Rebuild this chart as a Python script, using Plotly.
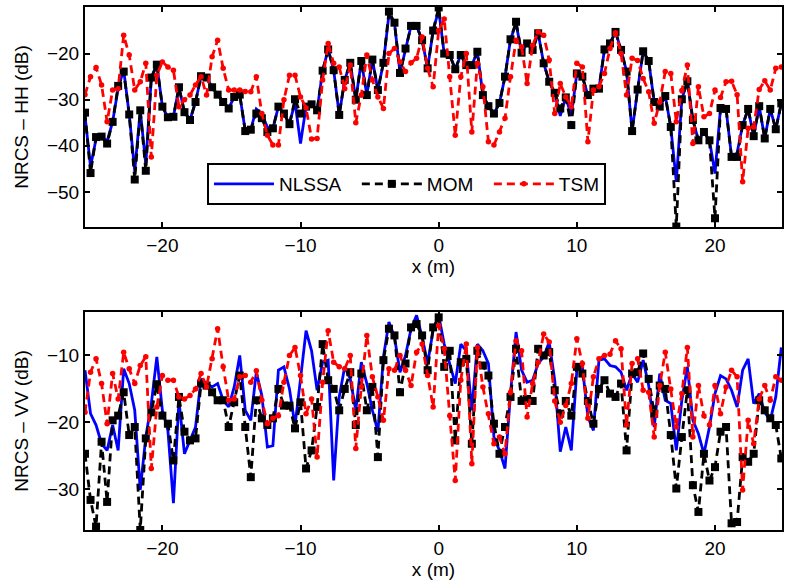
import numpy as np
import plotly.graph_objects as go
from plotly.subplots import make_subplots

# x positions (m): sampling grid
x = np.round(np.arange(-25.6, 25.01, 0.4), 1)[:127]

hh_mom = [-32.8,-45.9,-38.1,-38,-39.5,-34.8,-27,-23.9,-33.2,-47.3,-32.3,-45.4,-25.2,-22.4,-31.5,-33.8,-33.7,-27.3,-32.7,-34.4,
          -30.5,-24.9,-25.2,-27.3,-28.9,-30.5,-31.9,-29.4,-28.9,-36.8,-36.5,-33,-34,-37,-36.2,-31.5,-33,-35.3,-29.9,-33,
          -31.5,-31,-32.3,-23.7,-19.1,-23.6,-33.3,-25.7,-22,-30,-21.6,-29,-21.3,-27.9,-22,-10.9,-13.3,-24.2,-18.9,-14,
          -14,-17.1,-23.2,-15,-10,-20,-20.3,-23.4,-20.3,-22.5,-22.5,-19.6,-29,-31.4,-33,-30.7,-25,-16.9,-13.1,-19.8,
          -17.8,-19.2,-15.6,-22.1,-26.1,-28.5,-31.9,-29.5,-35.5,-24.3,-25,-29,-27.6,-27.6,-19.1,-17.8,-15.3,-19.2,-23.9,-36.8,
          -27.8,-19.5,-21.6,-30.5,-31.5,-29.2,-35.9,-57.5,-29.9,-26,-34.4,-38.8,-37,-38.8,-55.7,-31.8,-32,-42.4,-42.4,-35.5,
          -32,-37.9,-31.4,-38.4,-32,-36.4,-30.8]

hh_nlssa = [-33.5,-44.5,-38.5,-38,-39,-34.8,-27.5,-23.5,-33.2,-45.5,-32.3,-44,-25.2,-22.4,-31.5,-33.8,-33.7,-27.3,-32.7,-34.4,
            -30.5,-24.9,-25.2,-27.3,-28.9,-30.5,-31.9,-29.4,-28.9,-36.8,-36.5,-32,-33,-36,-36.2,-31.5,-33,-35.3,-30.5,-39.5,
            -31.5,-31,-32.3,-23.7,-19.1,-23.6,-33.3,-25.7,-22,-30,-21.6,-29,-21.3,-27.9,-22,-11.5,-13.3,-24.2,-18.9,-14,
            -14,-17.1,-23.2,-15,-10.5,-20,-20.3,-23.4,-20.3,-22.5,-22.5,-19.6,-29,-31.4,-33,-30.7,-25,-16.9,-13.5,-19.8,
            -17.8,-19.2,-15.6,-22.1,-26.1,-28.5,-33.5,-29.5,-33.5,-24.3,-25,-29,-27.6,-27.6,-19.1,-17.8,-15.3,-19.2,-23.9,-36.8,
            -27.8,-19.5,-21.6,-30.5,-31.5,-29.2,-35.9,-47.8,-29.9,-26,-34.4,-38.8,-37,-38.8,-46,-31.8,-32,-42.4,-41.5,-35.5,
            -32,-37.9,-31.4,-38.4,-32,-36.4,-30.8]

hh_tsm = [-28.9,-25,-23,-26.8,-34.8,-27.9,-27.6,-16,-20.3,-27.9,-26.1,-22.1,-42.4,-24.7,-21.8,-22.9,-23.6,-31.5,-30,-29,
          -26.8,-25,-29,-20.7,-17.1,-23.2,-27.9,-27.9,-27.9,-28.2,-28.3,-25,-33,-37.7,-39.8,-39.8,-30,-24.7,-24.7,-29.4,
          -31.8,-38.5,-38.4,-25.7,-17.8,-22.1,-22.9,-27.6,-22.5,-35,-29,-20.3,-25.7,-29.4,-31.9,-20,-18.9,-21.8,-23.9,-22,
          -21,-16.4,-23.2,-27.2,-15,-12.5,-25,-37.7,-25,-20,-37,-22.1,-27.2,-39.1,-39.8,-37,-34,-25,-17.1,-18.5,
          -26.5,-18.2,-15.3,-16,-21.4,-33,-26.5,-29.4,-31.5,-22.1,-22.9,-39.1,-27.9,-27.2,-24.3,-18.9,-15.5,-20,-29,-21,
          -21.5,-25.4,-28.3,-35.1,-30.5,-23.9,-24.3,-34.8,-28,-22.5,-39.5,-27.2,-33.7,-33,-27.9,-29.5,-26.1,-26,-28.9,-47.8,
          -36.2,-35.9,-27.8,-25.9,-27.9,-23.2,-22.9]

vv_mom = [-24.7,-31.6,-35.6,-22.9,-31.9,-19.7,-19,-15.5,-21.9,-20.7,-36.1,-22.4,-18.5,-14.3,-19,-20.2,-25.7,-16.2,-21.4,-22.7,
          -22.4,-14.2,-14.5,-15.5,-16.7,-16.7,-20.7,-17,-13,-20.7,-28.2,-16.7,-19.4,-20.4,-19.4,-15,-17.5,-17.5,-20.9,-17,
          -26.9,-24.2,-17.7,-8.3,-13.7,-15,-18.2,-15,-12.5,-20.4,-12.7,-18.2,-14.7,-25.2,-10.7,-6,-7,-15.5,-11.2,-5.8,
          -5.3,-7,-12.2,-5.8,-4.3,-11.7,-9.3,-22.7,-11,-10.5,-23.2,-9.3,-11.5,-13,-20.2,-24.7,-20.7,-16.2,-9,-16.8,
          -16.5,-16.8,-9,-10,-9.5,-15.2,-18.7,-16.8,-19,-11.7,-12.7,-16.8,-20.2,-15,-13.7,-15.7,-16.2,-14.2,-24.2,-12.7,
          -12.5,-9.7,-13.5,-18.7,-14.5,-15,-21.9,-29.9,-22.2,-15.2,-29.4,-33.4,-24.7,-28.7,-26.7,-21.4,-20.7,-35.1,-34.9,-25.2,
          -25.9,-24.7,-16.7,-18.2,-19.4,-20.4,-25.4]

vv_nlssa = [-12.2,-18.7,-20.4,-23.2,-24.2,-20.4,-24.2,-12,-14.2,-18.2,-30.1,-22.2,-17.2,-10.2,-18.2,-21.2,-32.1,-16.7,-24.7,-22.7,
            -20.7,-13.5,-14.2,-14.7,-14.2,-16.7,-17.7,-14.7,-10,-18.2,-19.7,-12.5,-16,-23.7,-23.5,-12.2,-11.7,-15,-20.5,-13.5,
            -6.3,-9.3,-15.2,-11,-10.7,-28.7,-16.2,-11.7,-13.5,-18.2,-11,-14.2,-18.2,-21.4,-10.2,-5,-7.2,-12.5,-10,-6,
            -4,-7.2,-11.2,-6.2,-4,-8.3,-11.2,-14.2,-8.3,-9.3,-18.2,-8.3,-9.3,-11.2,-22.2,-24.2,-26.9,-15.7,-6.5,-12.2,
            -14,-13.7,-11.2,-10.2,-8,-13.7,-24.4,-20.7,-24.2,-12.2,-11.7,-19.2,-21.2,-10.7,-10.5,-11.5,-11.7,-12.5,-15.2,-12.7,
            -14,-10.7,-14.5,-20.7,-12.7,-16.7,-17.2,-24.2,-16.7,-11.7,-19.7,-21.7,-24.7,-20.7,-15.7,-13,-13.5,-15.2,-17.7,-12.2,
            -10.5,-17.2,-15.7,-18.5,-19.7,-16.2,-8.8]

vv_tsm = [-18.5,-12.5,-10.5,-14.2,-20.2,-12.7,-16.5,-9.5,-12,-14.2,-11.5,-10.2,-26.9,-17.7,-13,-13.7,-13.7,-16.2,-16.5,-16,
          -15,-12.7,-14.7,-10.5,-6,-11.7,-16.7,-16.5,-13.2,-13,-14,-12.3,-16.7,-20.2,-19.4,-19,-14,-10,-8.8,-13,
          -18.7,-16.5,-25.2,-14,-6.3,-11,-11.7,-12,-10,-23.9,-14.7,-7,-13.2,-16.2,-19.7,-12,-12.2,-10,-12.2,-14.5,
          -9.5,-8.3,-13,-17.7,-5.5,-9,-19,-28.7,-13.7,-8.3,-26.2,-8.8,-14.7,-18.7,-23.2,-22.2,-24.7,-15.5,-7.8,-9.3,
          -19.2,-14.2,-11,-6.8,-8,-16.8,-20,-17.5,-14.2,-7.5,-11.2,-19.4,-13.2,-10.5,-10,-9.8,-7.8,-9,-20.4,-11.2,
          -10.5,-15.2,-15.5,-22.2,-14.5,-9.5,-15,-20.7,-15.7,-8.8,-22.2,-14.5,-19,-20.4,-14.5,-18.7,-14.7,-12.2,-13.2,-30.1,
          -19.7,-23.2,-16.5,-14.5,-16.7,-13.2,-13.7]

names = ["NLSSA", "MOM", "TSM"]
colors = ["#0000ff", "#000000", "#ff0000"]
PAD = "\u00a0" * 2

FONT = "Liberation Sans, Arial, Helvetica, sans-serif"
FS = 19

fig = make_subplots(rows=2, cols=1, vertical_spacing=0.0)

def add_set(row, nl, mo, ts, show):
    fig.add_trace(go.Scatter(x=x, y=nl, mode="lines", name=names[0] + PAD, showlegend=show,
                             line=dict(color=colors[0], width=2.8)), row=row, col=1)
    fig.add_trace(go.Scatter(x=x, y=mo, mode="lines+markers", name=names[1] + PAD, showlegend=show,
                             line=dict(color=colors[1], width=2.8, dash="8px,5px"),
                             marker=dict(symbol="square", size=8, color=colors[1])), row=row, col=1)
    fig.add_trace(go.Scatter(x=x, y=ts, mode="lines+markers", name=names[2], showlegend=show,
                             line=dict(color=colors[2], width=2.8, dash="8px,5px"),
                             marker=dict(symbol="circle", size=5.5, color=colors[2])), row=row, col=1)

add_set(1, hh_nlssa, hh_mom, hh_tsm, True)
add_set(2, vv_nlssa, vv_mom, vv_tsm, False)

axis_common = dict(showline=True, linecolor="black", linewidth=2, mirror="ticks",
                   ticks="inside", ticklen=5, tickwidth=1.5, tickcolor="black",
                   showgrid=False, zeroline=False,
                   tickfont=dict(family=FONT, size=FS, color="black"))

fig.update_xaxes(range=[-25.6, 24.85], tickvals=[-20, -10, 0, 10, 20], **axis_common)
fig.update_xaxes(domain=[0, 1])
fig.update_xaxes(title=dict(text="x (m)", font=dict(family=FONT, size=FS, color="black"), standoff=0), row=1, col=1)
fig.update_xaxes(title=dict(text="x (m)", font=dict(family=FONT, size=FS, color="black"), standoff=0), row=2, col=1)

fig.update_yaxes(**axis_common)
fig.update_yaxes(range=[-57.6, -9.9], tickvals=[-20, -30, -40, -50], domain=[0.5793, 1.0],
                 title=dict(text="NRCS – HH (dB)", font=dict(family=FONT, size=FS, color="black"), standoff=13),
                 row=1, col=1)
fig.update_yaxes(range=[-36.1, -3.5], tickvals=[-10, -20, -30], domain=[0.0, 0.4168],
                 title=dict(text="NRCS – VV (dB)", font=dict(family=FONT, size=FS, color="black"), standoff=13),
                 row=2, col=1)

fig.update_layout(
    width=785, height=586,
    margin=dict(l=85, r=1, t=7, b=56),
    plot_bgcolor="white", paper_bgcolor="white",
    font=dict(family=FONT, size=FS, color="black"),
    legend=dict(orientation="h", x=0.175, y=0.7017, xanchor="left", yanchor="top",
                bordercolor="black", borderwidth=2, bgcolor="white",
                itemwidth=60, font=dict(family=FONT, size=FS, color="black")),
)

fig.write_html("out.html")
